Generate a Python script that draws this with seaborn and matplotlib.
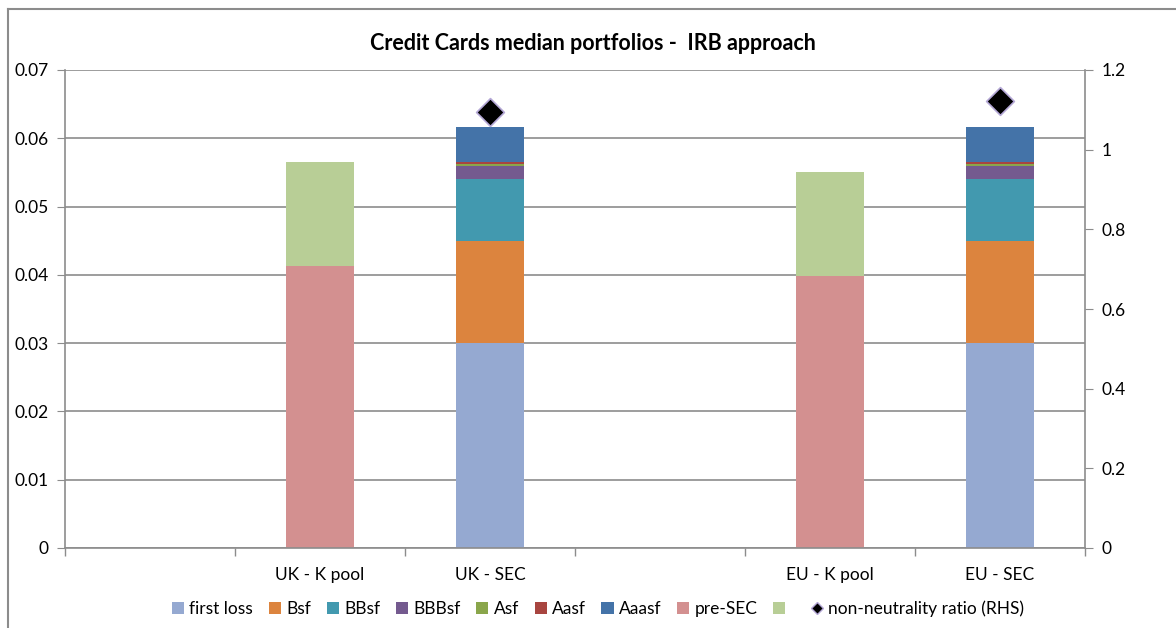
import numpy as np
import pandas as pd
import matplotlib
matplotlib.use("Agg")
import matplotlib.pyplot as plt
import seaborn as sns
from matplotlib.lines import Line2D
from matplotlib.patches import Patch

# categories along x (two blank spacer slots)
categories = ["gap1", "UK - K pool", "UK - SEC", "gap2", "EU - K pool", "EU - SEC"]
tick_labels = ["", "UK - K pool", "UK - SEC", "", "EU - K pool", "EU - SEC"]

series = ["first loss", "Bsf", "BBsf", "BBBsf", "Asf", "Aasf", "Aaasf", "pre-SEC", " "]
colors = ["#95A9D1", "#DC843E", "#4299AF", "#745A8F", "#8AA64B", "#A84540",
          "#4473A8", "#D39090", "#B8CE96"]

first_loss = [0, 0, 0.0300, 0, 0, 0.0300]
bsf = [0, 0, 0.0150, 0, 0, 0.0150]
bbsf = [0, 0, 0.0091, 0, 0, 0.0091]
bbbsf = [0, 0, 0.0019, 0, 0, 0.0019]
asf = [0, 0, 0.0003, 0, 0, 0.0003]
aasf = [0, 0, 0.0002, 0, 0, 0.0002]
aaasf = [0, 0, 0.0052, 0, 0, 0.0052]
pre_sec = [0, 0.0413, 0, 0, 0.0398, 0]
green = [0, 0.0152, 0, 0, 0.0152, 0]

ratio_cats = ["UK - SEC", "EU - SEC"]
ratio_vals = [1.094, 1.122]

df = pd.DataFrame({"cat": categories})
for name, vals in zip(series, [first_loss, bsf, bbsf, bbbsf, asf, aasf, aaasf, pre_sec, green]):
    df[name] = vals
cum = df[series].cumsum(axis=1)
cum["cat"] = df["cat"]

plt.rcParams["font.family"] = ["Lato", "DejaVu Sans"]
fig = plt.figure(figsize=(11.76, 6.28), dpi=100)
ax = fig.add_axes([65 / 1176, 1 - 548 / 628, 1020 / 1176, 478 / 628])

# stacked bars: draw cumulative totals from the top down
for name, col in reversed(list(zip(series, colors))):
    sns.barplot(data=cum, x="cat", y=name, order=categories, color=col,
                width=0.4, linewidth=0, saturation=1, ax=ax)

ax.set_xlim(-0.5, len(categories) - 0.5)
ax.set_ylim(0, 0.07)
ax.set_yticks(np.arange(0, 0.0701, 0.01))
ax.set_yticklabels(["0"] + [f"{v:.2f}" for v in np.arange(0.01, 0.0701, 0.01)])
ax.yaxis.grid(True, color="#8C8C8C", linewidth=1.2)
ax.set_axisbelow(True)
ax.set_xlabel("")
ax.set_ylabel("")

ax.set_xticks(np.arange(-0.5, len(categories), 1.0))
ax.set_xticklabels([])
ax.set_xticks(np.arange(len(categories)), minor=True)
ax.set_xticklabels(tick_labels, minor=True)
ax.tick_params(axis="x", which="major", length=6, color="#8C8C8C", width=1)
ax.tick_params(axis="x", which="minor", length=0, pad=14, labelsize=12.5)
ax.tick_params(axis="y", length=6, color="#8C8C8C", labelsize=12.5, pad=6)
for s in ["top", "right"]:
    ax.spines[s].set_visible(False)
for s in ["left", "bottom"]:
    ax.spines[s].set_color("#8C8C8C")
    ax.spines[s].set_linewidth(1.2)

ax2 = ax.twinx()
rdf = pd.DataFrame({"pos": [categories.index(c) for c in ratio_cats], "ratio": ratio_vals})
sns.scatterplot(data=rdf, x="pos", y="ratio", marker="D", s=200, color="black",
                edgecolor="#B4A7D6", linewidth=1.2, ax=ax2, zorder=5)
ax2.set_ylim(0, 1.2)
ax2.set_yticks(np.arange(0, 1.21, 0.2))
ax2.set_yticklabels(["0", "0.2", "0.4", "0.6", "0.8", "1", "1.2"])
ax2.set_ylabel("")
ax2.tick_params(axis="y", length=6, color="#8C8C8C", labelsize=12.5, pad=6)
for s in ["top", "left", "bottom"]:
    ax2.spines[s].set_visible(False)
ax2.spines["right"].set_color("#8C8C8C")
ax2.spines["right"].set_linewidth(1.2)
ax2.set_xlim(-0.5, len(categories) - 0.5)

fig.text(593 / 1176, 1 - 44 / 628, "Credit Cards median portfolios -  IRB approach",
         ha="center", va="center", fontsize=15.5, fontweight="bold")

handles = [Patch(facecolor=c, edgecolor="none") for c in colors]
handles.append(Line2D([], [], marker="D", color="black", markeredgecolor="#B4A7D6",
                      linestyle="none", markersize=6))
labels = series + ["non-neutrality ratio (RHS)"]
fig.legend(handles, labels, loc="center", bbox_to_anchor=(598 / 1176, 1 - 609 / 628),
           ncol=len(labels), frameon=False, fontsize=12.5, handlelength=0.7,
           handleheight=0.7, handletextpad=0.3, columnspacing=0.9)

# chart-area border
fig.add_artist(Line2D([8 / 1176, 8 / 1176], [0, 1 - 9 / 628], transform=fig.transFigure,
                      color="#8C8C8C", linewidth=1.5))
fig.add_artist(Line2D([8 / 1176, 1], [1 - 9 / 628, 1 - 9 / 628], transform=fig.transFigure,
                      color="#8C8C8C", linewidth=1.5))

fig.savefig("out.png", dpi=100)
